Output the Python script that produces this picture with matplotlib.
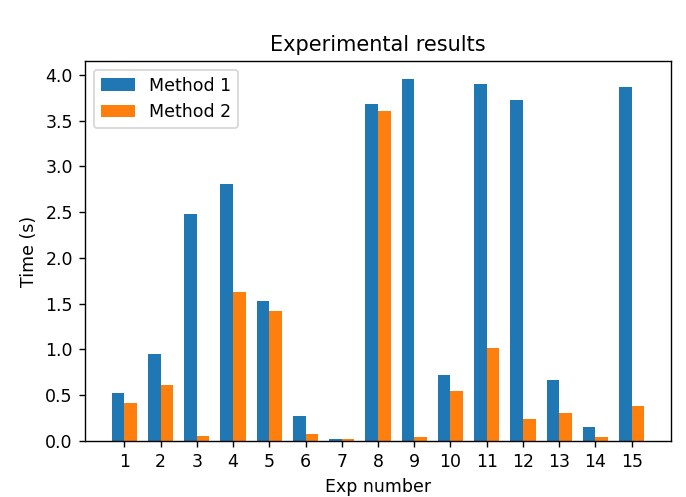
import matplotlib
matplotlib.use("Agg")
import matplotlib.pyplot as plt
import numpy as np

exp_numbers = list(range(1, 16))
method1 = [0.524, 0.946, 2.479, 2.810, 1.533, 0.273, 0.025, 3.680, 3.953, 0.724, 3.895, 3.720, 0.670, 0.157, 3.866]
method2 = [0.415, 0.612, 0.051, 1.631, 1.416, 0.080, 0.022, 3.607, 0.047, 0.546, 1.019, 0.237, 0.309, 0.040, 0.386]

dpi = 125
fig = plt.figure(figsize=(686 / dpi, 497 / dpi), dpi=dpi)
ax = fig.add_axes([85 / 686, 1 - 441 / 497, (671 - 85) / 686, (441 - 61) / 497])

x = np.array(exp_numbers)
width = 0.35
ax.bar(x - width / 2, method1, width, label="Method 1")
ax.bar(x + width / 2, method2, width, label="Method 2")
ax.set_xticks(x)
ax.set_xticklabels([str(v) for v in exp_numbers])
ax.set_xlabel("Exp number")
ax.set_ylabel("Time (s)")
ax.set_title("Experimental results")
ax.legend(loc="upper left")

fig.savefig("out.png", dpi=dpi)
